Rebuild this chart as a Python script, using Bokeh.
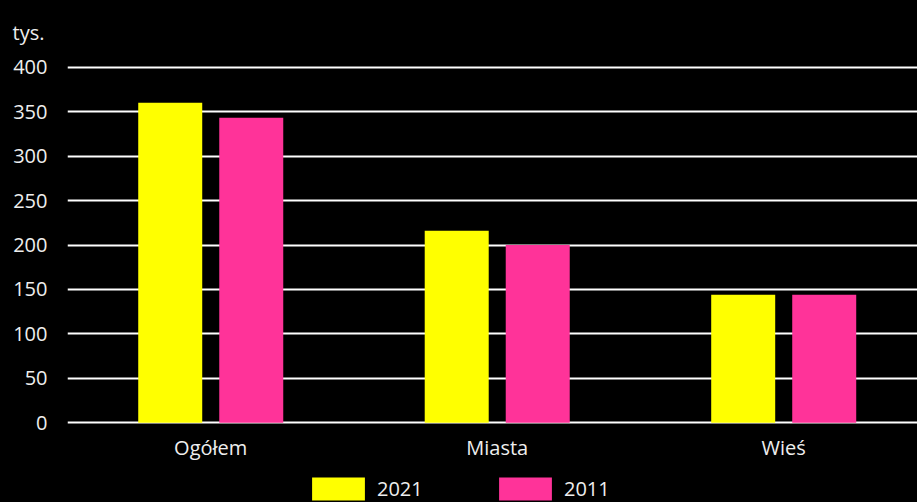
from bokeh.plotting import figure
from bokeh.layouts import column
from bokeh.models import Range1d, FixedTicker, Legend, LegendItem
from bokeh.embed import file_html
from bokeh.resources import INLINE
import numpy as np

categories = ["Ogółem", "Miasta", "Wieś"]
values_2021 = [360, 216, 144]
values_2011 = [343, 200, 144]
series_names = ["2021", "2011"]
y_ticks = [0, 50, 100, 150, 200, 250, 300, 350, 400]

FONT = "Open Sans"
TXT = "#eeeeee"
YELLOW = "#FFFF00"
PINK = "#FF3399"
COLORS = [YELLOW, PINK]
SERIES = [values_2021, values_2011]

xc = np.arange(len(categories)) + 0.5
bar_w = 0.2234
off = 0.1414
offsets = [-off, off]

p = figure(width=917, height=470, output_backend="svg", toolbar_location=None,
           x_range=Range1d(0, 2.967), y_range=Range1d(-3, 403),
           min_border_left=67, min_border_right=0, min_border_top=64, min_border_bottom=45)
p.background_fill_color = "black"
p.border_fill_color = "black"
p.outline_line_color = None

for vals, col, o in zip(SERIES, COLORS, offsets):
    p.vbar(x=xc + o, top=vals, width=bar_w, fill_color=col, line_color=None)

p.xgrid.grid_line_color = None
p.ygrid.ticker = FixedTicker(ticks=y_ticks)
p.ygrid.grid_line_color = "white"
p.ygrid.grid_line_width = 2

p.yaxis.ticker = FixedTicker(ticks=y_ticks)
p.xaxis.ticker = FixedTicker(ticks=list(xc))
p.xaxis.major_label_overrides = {float(x): c for x, c in zip(xc, categories)}
for ax in (p.xaxis[0], p.yaxis[0]):
    ax.axis_line_color = None
    ax.major_tick_line_color = None
    ax.minor_tick_line_color = None
    ax.major_label_text_color = TXT
    ax.major_label_text_font = FONT
    ax.major_label_text_font_size = "20px"
p.yaxis.major_label_standoff = 14
p.xaxis.major_label_standoff = 2

p.title.text = "tys."
p.title.align = "left"
p.title.vertical_align = "middle"
p.title.offset = -55
p.title.text_font = FONT
p.title.text_font_size = "20px"
p.title.text_font_style = "normal"
p.title.text_color = TXT
p.title.standoff = 35

# legend strip (legend proxies are hidden copies of the series)
p2 = figure(width=917, height=32, output_backend="svg", toolbar_location=None,
            x_range=Range1d(0, 1), y_range=Range1d(0, 1),
            x_axis_location=None, y_axis_location=None, min_border=0)
p2.background_fill_color = "black"
p2.border_fill_color = "black"
p2.outline_line_color = None
p2.grid.grid_line_color = None
items = []
for name, vals, col, o in zip(series_names, SERIES, COLORS, offsets):
    r = p2.vbar(x=xc + o, top=vals, width=bar_w, fill_color=col, line_color=None, visible=False)
    items.append(LegendItem(label=name, renderers=[r]))
legend = Legend(items=items, orientation="horizontal", glyph_width=66, glyph_height=29,
                label_standoff=6, label_width=101, label_height=29, spacing=14,
                padding=0, margin=0, background_fill_alpha=0, border_line_color=None,
                label_text_color=TXT, label_text_font=FONT, label_text_font_size="20px",
                location=(238, -1), click_policy="none")
p2.add_layout(legend, "center")

layout = column(p, p2, spacing=0)
html = file_html(layout, INLINE)
html = html.replace("<body>", '<body style="margin:0;background:#000000">')
open("out.html", "w").write(html)
